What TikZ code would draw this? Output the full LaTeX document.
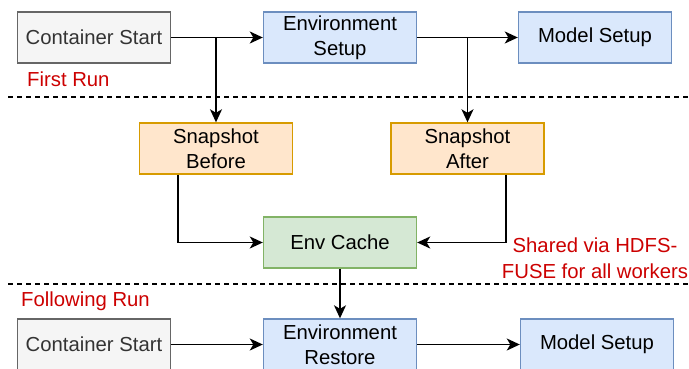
\documentclass[tikz,border=0pt]{standalone}
\usepackage{fontspec}
\setmainfont{Liberation Sans}
\usetikzlibrary{arrows.meta}
\definecolor{grayfill}{HTML}{F5F5F5}
\definecolor{graydraw}{HTML}{666666}
\definecolor{bluefill}{HTML}{DAE8FC}
\definecolor{bluedraw}{HTML}{6C8EBF}
\definecolor{orangefill}{HTML}{FFE6CC}
\definecolor{orangedraw}{HTML}{D79B00}
\definecolor{greenfill}{HTML}{D5E8D4}
\definecolor{greendraw}{HTML}{82B366}
\definecolor{notered}{HTML}{CC0000}
\tikzset{
  box/.style={draw, line width=1.4pt, minimum width=153pt, minimum height=51pt, inner sep=0pt, align=center,
    font=\fontsize{20.3}{25}\selectfont},
  graybox/.style={box, fill=grayfill, draw=graydraw, text=black!80},
  bluebox/.style={box, fill=bluefill, draw=bluedraw},
  orangebox/.style={box, fill=orangefill, draw=orangedraw},
  greenbox/.style={box, fill=greenfill, draw=greendraw},
  note/.style={text=notered, font=\fontsize{20.3}{26}\selectfont, inner sep=0pt, align=center},
  conn/.style={line width=1.5pt, -{Stealth[length=13pt,width=12pt,inset=3.5pt]}},
  sep/.style={line width=1.1pt, dash pattern=on 5pt off 4pt},
}
\begin{document}
\begin{tikzpicture}[x=1pt,y=-1pt]
\useasboundingbox (0,0) rectangle (689,368);
% separators
\coordinate (s1a) at (8,97);
\coordinate (s1b) at (689,97);
\coordinate (s2a) at (8,284);
\coordinate (s2b) at (689,284);
\draw[sep] (s1a) -- (s1b);
\draw[sep] (s2a) -- (s2b);
% top row
\node[graybox] (cs1) at (94,37.5) {Container Start};
\node[bluebox] (es) at (340,37.5) {Environment\\Setup};
\node[bluebox] (ms1) at (595,37.5) {Model Setup};
% snapshots
\node[orangebox] (sb) at (216,148.5) {Snapshot\\Before};
\node[orangebox] (sa) at (467.5,148.5) {Snapshot\\After};
% cache
\node[greenbox] (ec) at (340,242.5) {Env Cache};
% bottom row
\node[graybox] (cs2) at (94,344.5) {Container Start};
\node[bluebox] (er) at (340,344.5) {Environment\\Restore};
\node[bluebox] (ms2) at (597,344.5) {Model Setup};
% labels
\node[note, anchor=west] (fr) at (27,79) {First Run};
\node[note, anchor=west] (fo) at (21,301) {Following Run};
\node[note] (sh) at (595,258) {Shared via HDFS-\\FUSE for all workers};
% connectors
\draw[conn] (cs1) -- (es);
\draw[conn] (es) -- (ms1);
\draw[conn] (sb.north |- cs1.east) -- (sb.north);
\draw[conn] (sa.north |- es.east) -- (sa.north);
\draw[conn] ([xshift=-38pt]sb.south) |- (ec.west);
\draw[conn] ([xshift=38.5pt]sa.south) |- (ec.east);
\draw[conn] (ec) -- (er);
\draw[conn] (cs2) -- (er);
\draw[conn] (er) -- (ms2);
\end{tikzpicture}
\end{document}
